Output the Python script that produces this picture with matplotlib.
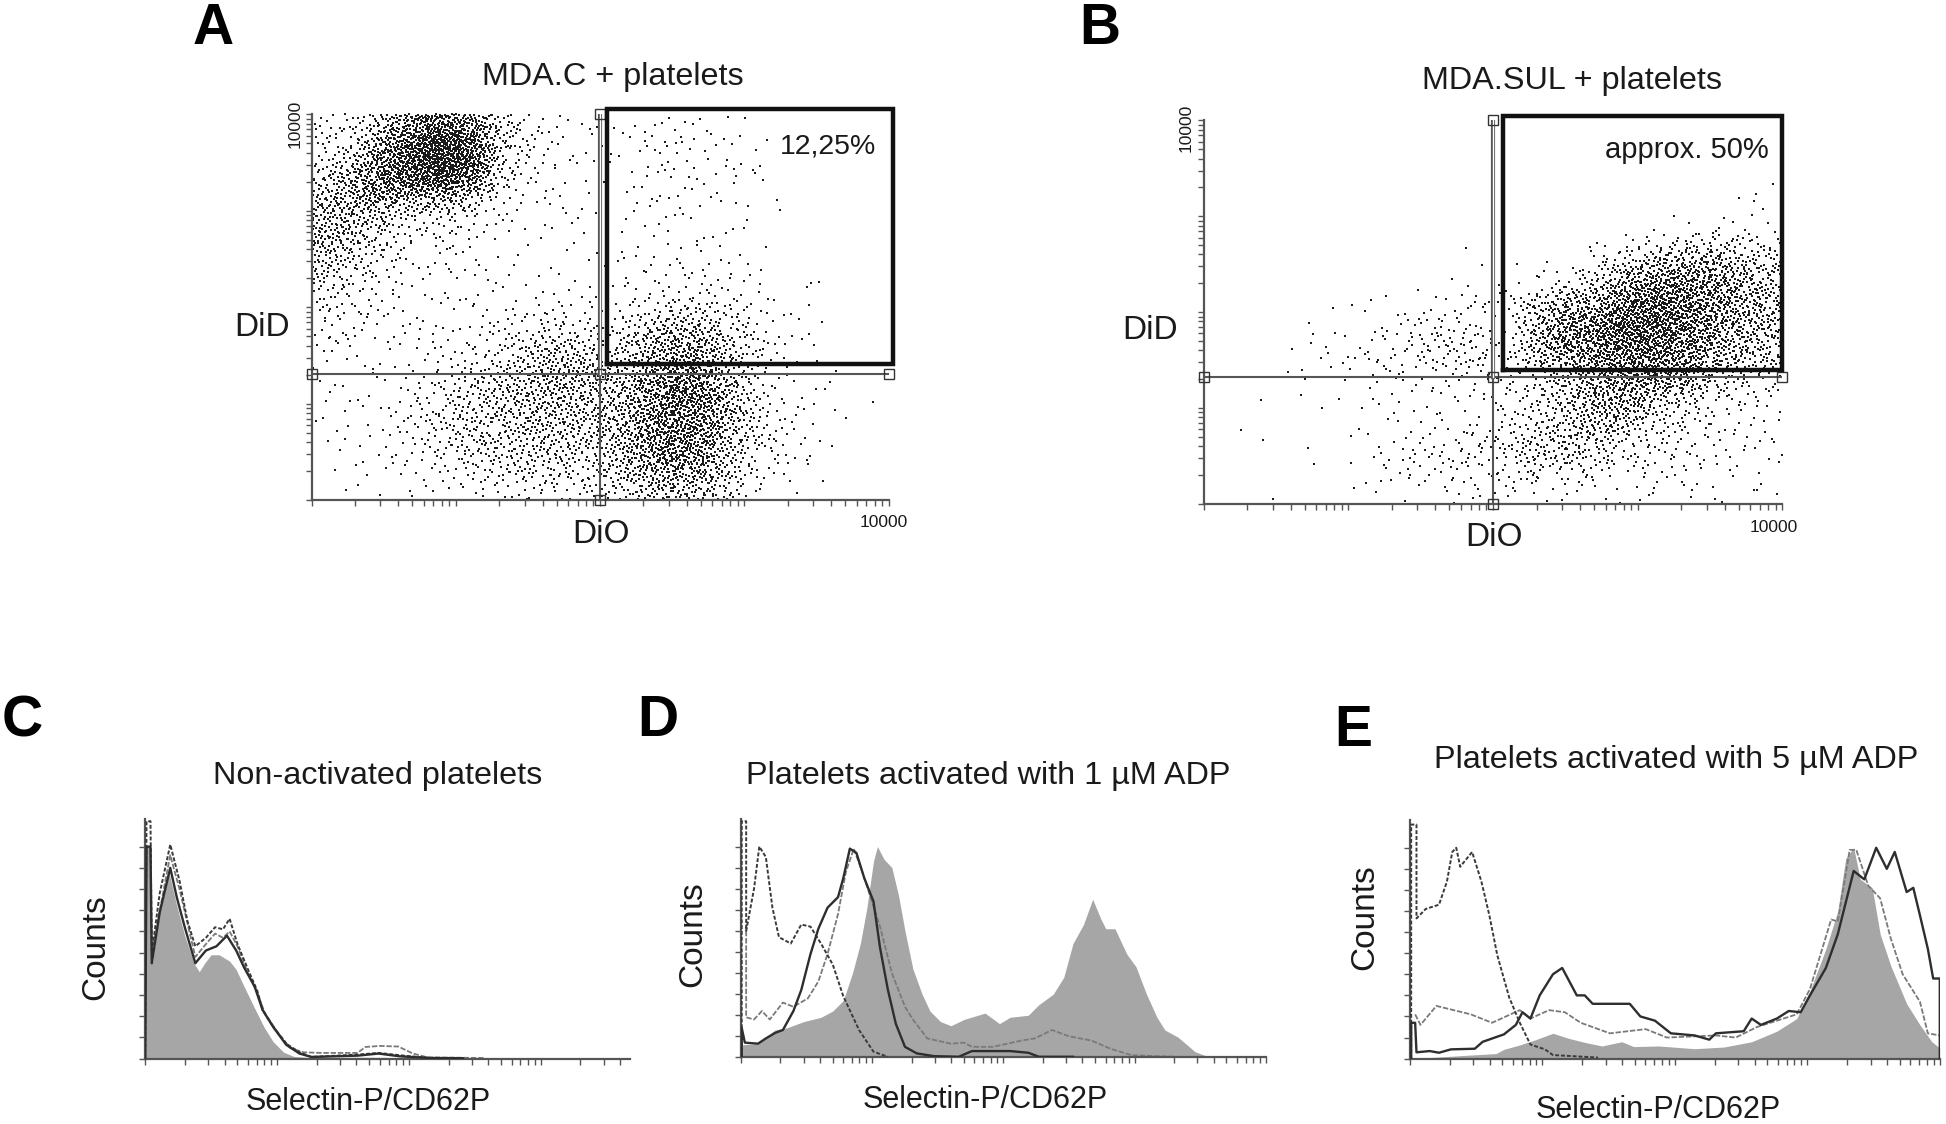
import numpy as np
import matplotlib
matplotlib.use("Agg")
import matplotlib.pyplot as plt
from matplotlib.ticker import LogLocator, NullFormatter, FixedLocator

plt.rcParams['font.family'] = ['Liberation Sans', 'DejaVu Sans']

# Panels A and B: estimated dot counts per cell.
# 20 columns and 20 rows, each 0.2 log10 decade wide; rows run from top to bottom.
# Individual events cannot be read, so the plot is a dot-density rendering of these counts.
counts_A = [
 [8,10,35,80,95,70,25,8,5,3,2,4,4,3,2,0,0,0,0,0],
 [10,18,60,120,150,110,30,8,4,2,3,4,5,4,3,1,0,0,0,0],
 [15,35,80,130,170,120,25,7,3,2,3,4,5,3,3,2,0,0,0,0],
 [25,50,90,110,120,80,15,5,3,2,2,4,5,4,3,2,0,0,0,0],
 [35,50,55,35,45,25,8,4,3,2,2,3,3,3,2,1,0,0,0,0],
 [40,40,25,15,12,8,4,2,3,2,2,3,3,2,2,1,0,0,0,0],
 [40,30,15,8,7,5,3,2,2,2,2,2,3,2,2,0,0,0,0,0],
 [30,20,10,5,4,4,2,2,1,1,2,4,4,3,2,1,0,0,0,0],
 [18,12,6,4,3,3,2,2,2,2,2,5,5,5,4,2,0,1,0,0],
 [12,8,5,3,3,3,3,3,3,4,4,6,8,10,7,4,1,1,1,0],
 [8,6,5,4,3,4,5,6,10,8,8,14,25,25,14,6,2,1,0,0],
 [6,5,4,4,5,6,8,16,20,12,14,30,50,45,22,8,3,1,0,0],
 [4,3,3,4,6,8,12,25,35,30,22,40,65,60,28,10,3,1,0,0],
 [2,2,3,5,8,12,22,30,40,38,30,50,75,75,30,10,3,1,0,0],
 [2,3,3,5,12,20,28,35,38,35,32,55,95,85,40,12,5,2,1,0],
 [2,2,3,6,15,22,25,30,35,32,35,60,90,80,38,14,5,2,1,0],
 [2,2,3,8,14,22,25,28,30,28,35,60,90,75,35,14,6,2,1,0],
 [1,2,3,6,10,18,22,25,25,22,32,60,85,70,30,12,4,2,0,0],
 [1,2,2,4,6,10,14,18,18,16,25,45,55,50,25,8,3,1,0,0],
 [0,1,1,2,3,5,6,8,8,8,15,30,35,30,15,4,1,0,0,0],
]
counts_B = [
 [0,0,0,0,0,0,0,0,0,0,0,0,0,0,0,0,0,0,0,0],
 [0,0,0,0,0,0,0,0,0,0,0,0,0,0,0,0,0,0,0,0],
 [0,0,0,0,0,0,0,0,0,0,0,0,0,0,0,0,0,0,0,0],
 [0,0,0,0,0,0,0,0,0,0,0,0,0,0,0,0,0,0,0,1],
 [0,0,0,0,0,0,0,0,0,0,0,0,0,0,0,0,0,0,1,2],
 [0,0,0,0,0,0,0,0,0,0,0,0,0,0,0,0,2,1,3,3],
 [0,0,0,0,0,0,0,0,0,0,0,0,0,1,5,10,15,20,20,12],
 [0,0,0,0,0,0,0,0,1,1,0,2,3,8,25,40,50,50,35,25],
 [0,0,0,0,0,0,0,0,0,2,1,4,10,25,50,80,75,70,45,30],
 [0,0,0,0,1,2,1,2,3,6,8,25,45,55,75,100,95,70,50,35],
 [0,0,0,2,1,3,2,6,8,8,5,35,65,85,100,110,90,70,45,35],
 [0,0,0,1,3,3,5,12,14,14,6,40,70,80,100,105,85,60,40,30],
 [0,0,1,3,2,5,8,8,12,14,7,25,50,70,85,90,75,50,35,25],
 [0,0,0,2,1,3,4,4,5,6,8,15,30,50,70,75,60,30,15,8],
 [0,0,1,1,1,2,2,3,4,5,8,12,28,50,55,35,22,12,8,6],
 [0,1,0,0,0,2,2,2,3,4,8,15,25,40,40,22,12,8,5,4],
 [0,1,1,0,0,1,2,4,5,7,12,22,30,35,20,10,8,5,5,5],
 [0,0,0,1,0,4,5,7,9,8,14,25,22,18,10,8,8,5,4,4],
 [1,0,0,0,0,2,3,6,6,7,8,12,8,8,5,5,5,3,3,3],
 [0,0,1,0,0,1,1,2,3,4,3,3,3,2,2,2,2,2,2,2],
]

# Panel C: x in log10 decades, y in % of the 100% tick
c_fill_x = [0,.006,.04,.054,.11,.18,.24,.30,.37,.41,.45,.50,.56,.64,.69,.75,.82,.90,.97,1.05,1.13,1.23,1.77,2.09,3.68]
c_fill_y = [0,100,100,45,69,88,72,58,45,41,45,49,49,46,42,34,25,15,8,3,1,.6,.6,.3,.2]
c_solid_x = [0,.01,.04,.05,.11,.19,.24,.30,.38,.46,.54,.62,.69,.75,.83,.89,.97,1.07,1.17,1.26,1.61,1.77,1.93,2.16,2.41]
c_solid_y = [0,100,100,45,69,90,76,62,45,51,53,58,51,43,34,23,15,6.5,2.4,.8,1.4,2.4,1.1,.3,.2]
c_dash_x = [0,.01,.04,.05,.11,.19,.26,.32,.38,.46,.53,.59,.64,.70,.78,.85,.89,.97,1.07,1.17,1.26,1.61,1.77,1.96,2.16]
c_dash_y = [0,112,112,50,78,101,84,65,53,57,62,61,66,54,42,32,23,15,7,3,.8,1.9,2.7,1.4,.3]
c_dot_x = [.05,.19,.26,.32,.38,.46,.53,.59,.64,.70,.78,.85,.91,1.01,1.1,1.2,1.33,1.61,1.67,1.78,1.92,2.03,2.14,2.57]
c_dot_y = [50,96,80,64,48,54,59,57,60,53,40,31,21,12,5,3,2.7,2.7,5.5,6,5.7,2.4,.6,.3]

# Panel D
d_fill_x = [0,.01,.13,.26,.35,.48,.61,.70,.78,.85,.91,.96,1.01,1.04,1.09,1.15,1.20,1.25,1.31,1.38,1.44,1.52,1.60,1.70,1.86,1.97,2.05,2.19,2.27,2.38,2.46,2.53,2.61,2.68,2.74,2.78,2.85,2.94,3.01,3.09,3.17,3.23,3.33,3.46,3.55,4]
d_fill_y = [0,6,6.5,13,14,17,19,22,27,40,54,71,93,100,94,90,77,60,42,30,22,17,15,18,21,16,19,20,25,30,38,54,63,75,66,61,61,49,43,30,19,13,9.6,2.7,.6,.2]
d_solid_x = [.006,.006,.03,.13,.19,.26,.32,.40,.46,.53,.59,.66,.74,.78,.83,.88,.94,1.01,1.06,1.12,1.18,1.25,1.34,1.47,1.66,1.76,2.05,2.19,2.27,2.53]
d_solid_y = [0,14,7,6.5,9,11.6,13,22,32,49,61,71,76,85,99,97,85,74,52,32,16,5,1.9,.6,.3,3,3,2.2,.3,.3]
d_dash_x = [.006,.006,.04,.04,.10,.14,.19,.24,.29,.38,.46,.53,.61,.70,.78,.90,1.01,1.12]
d_dash_y = [0,112,112,60,80,100,95,71,57,54,63,62,54,44,29,13,2.7,.3]
d_dot_x = [.04,.04,.10,.16,.22,.32,.40,.51,.59,.66,.74,.80,.86,.93,1.06,1.15,1.25,1.31,1.42,1.60,1.70,1.76,1.92,2.14,2.24,2.37,2.5,2.67,2.82,2.98,3.3]
d_dot_y = [60,19,18,22,18,26,24,28,36,49,68,88,99,87,62,40,24,18,9,6.5,7,5,5,8,9,13,10,8,4,1,.3]

# Panel E
e_fill_x = [0,.15,.46,.65,.71,.83,.95,1.08,1.20,1.32,1.45,1.6,1.69,1.88,2.15,2.37,2.58,2.77,2.92,3.02,3.14,3.23,3.29,3.35,3.40,3.49,3.55,3.63,3.75,3.85,3.94,4]
e_fill_y = [0,.5,1.7,2.4,4.4,6.5,9,12,9.6,7.7,6,8,5.7,6,4.7,5.5,8,13,19,32,52,70,95,100,85,81,59,44,26,16,8,5]
e_solid_x = [.01,.01,.04,.05,.15,.22,.31,.49,.55,.71,.80,.85,.91,.98,1.08,1.15,1.26,1.32,1.38,1.6,1.66,1.74,1.85,1.97,2.15,2.26,2.31,2.52,2.58,2.65,2.77,2.86,2.95,3.02,3.14,3.23,3.35,3.43,3.52,3.6,3.66,3.75,3.8,3.85,3.91,3.95,4,4]
e_solid_y = [0,17,17,3,3.6,2.8,4.4,4.7,8,11.5,16,22,19,30,40,43,30,30,26,26,26,20,18,12,11,9,12,13,19,16,19,22.6,22,30,43,59,89,85,100,90,98,79,81,68,52,38,38,0]
e_dash_x = [.01,.01,.05,.05,.12,.22,.28,.32,.35,.38,.47,.54,.6,.66,.75,.83,.91,1.02,1.08,1.42]
e_dash_y = [0,111,111,66.5,71,73,84,98,100,91,98,84,68,49,29,17,6.7,4.4,1.7,.5]
e_dot_x = [.04,.08,.2,.46,.62,.83,.91,1.05,1.17,1.29,1.51,1.78,1.94,2.31,2.46,2.62,2.92,3.02,3.18,3.23,3.32,3.37,3.46,3.55,3.63,3.72,3.85,3.91,4]
e_dot_y = [21,16,25,21,17,23,19,23,22,17,12,14,10,11,10,15,21,33,66,65,99,99,82,76,57,40,27,12,11]

titles = ["MDA.C + platelets", "MDA.SUL + platelets", "Non-activated platelets",
          "Platelets activated with 1 µM ADP", "Platelets activated with 5 µM ADP"]
letters = ["A", "B", "C", "D", "E"]

W, H = 1946, 1124
K = 1946 / 1568
fig = plt.figure(figsize=(W / 100, H / 100), dpi=100, facecolor='white')
GRAY = '#555555'


def new_axes(l, r, t, b):
    ax = fig.add_axes([l * K / W, 1 - b * K / H, (r - l) * K / W, (b - t) * K / H])
    for s in ('top', 'right'):
        ax.spines[s].set_visible(False)
    for s in ('left', 'bottom'):
        ax.spines[s].set_color(GRAY)
        ax.spines[s].set_linewidth(1.6)
    ax.patch.set_alpha(0)
    return ax


def log_ticks(axis):
    axis.set_major_locator(LogLocator(base=10, subs=np.arange(1, 10), numticks=60))
    axis.set_minor_locator(FixedLocator([]))
    axis.set_major_formatter(NullFormatter())
    axis.set_minor_formatter(NullFormatter())


def txt(x, y, s, size, **kw):
    fig.text(x * K / W, 1 - y * K / H, s, fontsize=size, ha='center', va='center',
             color=kw.pop('color', '#1a1a1a'), **kw)


def radical_inverse(n, base):
    out = np.zeros(len(n))
    f = 1.0 / base
    n = n.copy()
    while n.max() > 0:
        out += f * (n % base)
        n //= base
        f /= base
    return out


def density_points(grid):
    """Dot-density layout of the estimated cell counts: a fixed Halton sequence is
    thinned against the bilinearly smoothed count table, so no cell edges show."""
    g = np.array(grid, float)[::-1]          # row 0 becomes the lowest decade
    p = np.pad(g, 1, mode='edge')
    peak = g.max()
    n = np.arange(1, int(g.size * peak) + 1)
    u = radical_inverse(n, 2)
    v = radical_inverse(n, 3)
    w = radical_inverse(n, 5)
    cx = u * g.shape[1] + 0.5
    cy = v * g.shape[0] + 0.5
    i = np.floor(cx).astype(int)
    j = np.floor(cy).astype(int)
    fx, fy = cx - i, cy - j
    dens = (p[j, i] * (1 - fx) * (1 - fy) + p[j, i + 1] * fx * (1 - fy)
            + p[j + 1, i] * (1 - fx) * fy + p[j + 1, i + 1] * fx * fy)
    keep = w < dens / peak
    return 10 ** (u[keep] * 4), 10 ** (v[keep] * 4)


def scatter_panel(box, grid, gx, gy, rect):
    ax = new_axes(*box)
    ax.set_xscale('log')
    ax.set_yscale('log')
    ax.set_xlim(1, 1e4)
    ax.set_ylim(1, 1e4)
    log_ticks(ax.xaxis)
    log_ticks(ax.yaxis)
    ax.tick_params(axis='both', length=4, width=1, color=GRAY, direction='out')
    x, y = density_points(grid)
    ax.scatter(x, y, s=1.5, c='#1a1a1a', marker='s', linewidths=0, clip_on=False, zorder=2)
    ax.plot([1, 1e4], [gy, gy], color=GRAY, lw=1.5, zorder=3)
    ax.plot([gx, gx], [1, gy], color=GRAY, lw=1.5, zorder=3)
    ax.plot([gx, gx], [gy, 1e4], color=GRAY, lw=3.0, zorder=3)
    ax.plot([gx, gx], [gy, 1e4], color='white', lw=1.0, zorder=3)
    ax.plot([1, gx, 1e4, gx, gx], [gy, gy, gy, 1, 1e4], ls='none', marker='s', ms=7, mfc='none',
            mec='#333333', mew=1, clip_on=False, zorder=4)
    x0, x1, y0, y1 = rect
    ax.plot([x0, x1, x1, x0, x0], [y0, y0, y1, y1, y0], color='#111111', lw=3.2,
            solid_joinstyle='miter', clip_on=False, zorder=5)
    return ax


def hist_panel(box, xmax, ytop, fill, solid, dash, dot):
    ax = new_axes(*box)
    ax.set_xscale('log')
    ax.set_xlim(1, 10 ** xmax)
    ax.set_ylim(0, ytop)
    log_ticks(ax.xaxis)
    ax.yaxis.set_major_locator(FixedLocator(np.arange(0, 101, 10)))
    ax.yaxis.set_major_formatter(NullFormatter())
    ax.tick_params(axis='both', length=4, width=1, color=GRAY, direction='out')
    ax.fill_between(10 ** np.array(fill[0]), fill[1], 0, color='#a6a6a6', lw=0, zorder=1)
    ax.plot(10 ** np.array(dot[0]), dot[1], color='#7a7a7a', lw=1.3, ls=(0, (3, 1)), zorder=2)
    ax.plot(10 ** np.array(dash[0]), dash[1], color='#3a3a3a', lw=1.4, ls=(0, (2, 1)), zorder=3)
    ax.plot(10 ** np.array(solid[0]), solid[1], color='#2e2e2e', lw=1.7, zorder=4)
    return ax


scatter_panel((251, 716, 92, 403), counts_A, 100, 20.5, (10**2.05, 10**4.03, 10**1.41, 10**4.05))
scatter_panel((970, 1436, 97, 406), counts_B, 100, 21, (10**2.07, 10**4.0, 10**1.40, 10**4.05))

hist_panel((117, 508, 660, 853), 3.68, 113, (c_fill_x, c_fill_y), (c_solid_x, c_solid_y),
           (c_dash_x, c_dash_y), (c_dot_x, c_dot_y))
hist_panel((597, 1020, 660, 852), 4, 113, (d_fill_x, d_fill_y), (d_solid_x, d_solid_y),
           (d_dash_x, d_dash_y), (d_dot_x, d_dot_y))
hist_panel((1136, 1563, 661, 853), 4, 113, (e_fill_x, e_fill_y), (e_solid_x, e_solid_y),
           (e_dash_x, e_dash_y), (e_dot_x, e_dot_y))

for s, (x, y) in zip(letters, [(172, 23), (886, 23), (18, 581), (530, 581), (1090, 589)]):
    txt(x, y, s, 41, fontweight='bold', color='black')
for s, (x, y) in zip(titles, [(494, 62), (1267, 65), (304, 625), (796, 625), (1351, 612)]):
    txt(x, y, s, 23.3)
for x, y in [(211, 264), (927, 266)]:
    txt(x, y, "DiD", 24)
for x, y in [(484, 431), (1204, 433)]:
    txt(x, y, "DiO", 24)
for x, y in [(77, 763), (558, 753), (1100, 739)]:
    txt(x, y, "Counts", 24, rotation=90)
for x, y in [(297, 888), (794, 886), (1336, 894)]:
    txt(x, y, "Selectin-P/CD62P", 22)
for x, y in [(712, 421), (1429, 425)]:
    txt(x, y, "10000", 12.5)
for x, y in [(238, 100), (956, 103)]:
    txt(x, y, "10000", 12.5, rotation=90)
txt(667, 118, "12,25%", 20.5)
txt(1359, 121, "approx. 50%", 21)

fig.savefig("out.png", dpi=100, facecolor='white')
